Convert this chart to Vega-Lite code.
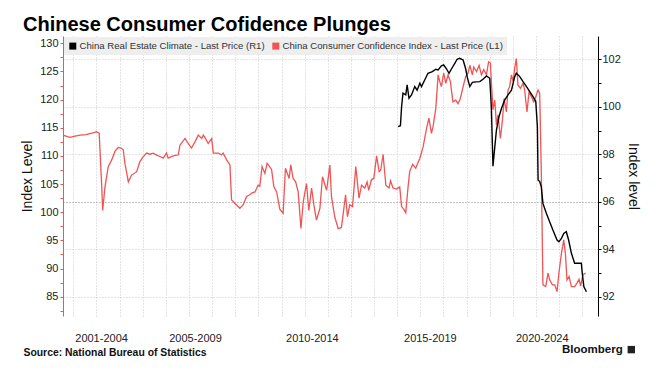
{
  "$schema": "https://vega.github.io/schema/vega-lite/v6.json",
  "autosize": {"type": "none"},
  "width": 535,
  "height": 280,
  "padding": {"left": 63, "top": 36, "right": 60, "bottom": 53},
  "background": "white",
  "title": {"text": "Chinese Consumer Cofidence Plunges", "anchor": "start", "frame": "group", "dx": -40, "fontSize": 20, "fontWeight": "bold", "font": "Liberation Sans", "color": "#000000", "offset": 1},
  "datasets": {
    "cci": [
      {"t":2001.56,"v":113.7},{"t":2001.68,"v":113.5},{"t":2001.86,"v":113.3},{"t":2002.07,"v":113.5},{"t":2002.29,"v":113.7},{"t":2002.55,"v":113.8},{"t":2002.85,"v":114.1},{"t":2003.01,"v":114.3},{"t":2003.12,"v":114.0},{"t":2003.23,"v":104.5},{"t":2003.27,"v":100.3},{"t":2003.37,"v":104.5},{"t":2003.51,"v":108.1},{"t":2003.66,"v":109.3},{"t":2003.80,"v":110.8},{"t":2003.94,"v":111.5},{"t":2004.06,"v":111.4},{"t":2004.16,"v":111.1},{"t":2004.23,"v":108.7},{"t":2004.38,"v":105.4},{"t":2004.52,"v":106.6},{"t":2004.74,"v":107.2},{"t":2004.88,"v":109.0},{"t":2005.01,"v":109.8},{"t":2005.17,"v":110.5},{"t":2005.31,"v":110.3},{"t":2005.46,"v":110.5},{"t":2005.62,"v":110.1},{"t":2005.75,"v":109.9},{"t":2005.89,"v":109.6},{"t":2006.03,"v":110.5},{"t":2006.10,"v":109.6},{"t":2006.32,"v":110.0},{"t":2006.54,"v":110.2},{"t":2006.61,"v":111.9},{"t":2006.83,"v":113.1},{"t":2006.95,"v":112.3},{"t":2007.11,"v":111.4},{"t":2007.26,"v":112.5},{"t":2007.40,"v":113.7},{"t":2007.55,"v":113.1},{"t":2007.62,"v":113.7},{"t":2007.73,"v":113.0},{"t":2007.83,"v":112.2},{"t":2007.98,"v":113.1},{"t":2008.05,"v":110.5},{"t":2008.26,"v":110.5},{"t":2008.41,"v":110.2},{"t":2008.48,"v":110.5},{"t":2008.63,"v":109.3},{"t":2008.77,"v":108.4},{"t":2008.84,"v":102.2},{"t":2008.98,"v":101.6},{"t":2009.20,"v":100.7},{"t":2009.34,"v":101.3},{"t":2009.49,"v":102.8},{"t":2009.63,"v":103.1},{"t":2009.71,"v":103.4},{"t":2009.85,"v":103.6},{"t":2009.99,"v":104.8},{"t":2010.06,"v":104.6},{"t":2010.16,"v":108.1},{"t":2010.28,"v":106.9},{"t":2010.38,"v":108.7},{"t":2010.57,"v":107.6},{"t":2010.67,"v":104.5},{"t":2010.79,"v":103.6},{"t":2010.93,"v":100.5},{"t":2011.07,"v":99.8},{"t":2011.17,"v":107.8},{"t":2011.33,"v":106.0},{"t":2011.40,"v":108.4},{"t":2011.50,"v":106.0},{"t":2011.61,"v":105.4},{"t":2011.72,"v":103.6},{"t":2011.84,"v":97.1},{"t":2011.94,"v":101.9},{"t":2012.08,"v":105.1},{"t":2012.18,"v":100.3},{"t":2012.30,"v":104.3},{"t":2012.40,"v":101.3},{"t":2012.51,"v":98.6},{"t":2012.66,"v":100.7},{"t":2012.77,"v":106.3},{"t":2012.95,"v":103.9},{"t":2013.09,"v":108.4},{"t":2013.16,"v":102.8},{"t":2013.30,"v":99.2},{"t":2013.45,"v":97.1},{"t":2013.59,"v":97.3},{"t":2013.77,"v":103.1},{"t":2013.85,"v":99.2},{"t":2013.95,"v":101.3},{"t":2014.07,"v":101.0},{"t":2014.21,"v":108.1},{"t":2014.35,"v":102.5},{"t":2014.46,"v":104.8},{"t":2014.60,"v":104.3},{"t":2014.70,"v":105.4},{"t":2014.77,"v":103.9},{"t":2014.89,"v":105.8},{"t":2014.99,"v":106.0},{"t":2015.11,"v":110.0},{"t":2015.22,"v":107.2},{"t":2015.29,"v":107.5},{"t":2015.39,"v":110.3},{"t":2015.51,"v":104.8},{"t":2015.65,"v":104.3},{"t":2015.71,"v":105.6},{"t":2015.82,"v":104.3},{"t":2015.97,"v":104.1},{"t":2016.11,"v":104.5},{"t":2016.19,"v":101.0},{"t":2016.29,"v":100.5},{"t":2016.37,"v":99.9},{"t":2016.47,"v":104.5},{"t":2016.54,"v":107.2},{"t":2016.67,"v":108.5},{"t":2016.80,"v":107.8},{"t":2016.98,"v":109.6},{"t":2017.12,"v":111.6},{"t":2017.27,"v":114.9},{"t":2017.37,"v":116.7},{"t":2017.48,"v":114.0},{"t":2017.55,"v":115.2},{"t":2017.67,"v":118.5},{"t":2017.77,"v":124.4},{"t":2017.84,"v":123.2},{"t":2017.91,"v":122.3},{"t":2018.01,"v":124.7},{"t":2018.10,"v":122.9},{"t":2018.20,"v":124.4},{"t":2018.30,"v":123.2},{"t":2018.41,"v":119.6},{"t":2018.53,"v":119.9},{"t":2018.63,"v":119.3},{"t":2018.73,"v":120.2},{"t":2018.85,"v":122.3},{"t":2018.96,"v":124.1},{"t":2019.06,"v":124.7},{"t":2019.14,"v":126.1},{"t":2019.25,"v":124.4},{"t":2019.31,"v":125.8},{"t":2019.43,"v":125.0},{"t":2019.54,"v":126.1},{"t":2019.64,"v":124.4},{"t":2019.74,"v":125.3},{"t":2019.86,"v":124.4},{"t":2019.95,"v":126.7},{"t":2020.03,"v":126.5},{"t":2020.07,"v":123.2},{"t":2020.14,"v":118.2},{"t":2020.22,"v":119.9},{"t":2020.29,"v":115.5},{"t":2020.36,"v":117.3},{"t":2020.46,"v":113.1},{"t":2020.55,"v":116.4},{"t":2020.62,"v":120.2},{"t":2020.72,"v":117.8},{"t":2020.79,"v":121.7},{"t":2020.86,"v":122.3},{"t":2020.94,"v":124.4},{"t":2021.01,"v":123.2},{"t":2021.08,"v":125.6},{"t":2021.15,"v":127.3},{"t":2021.22,"v":122.6},{"t":2021.33,"v":122.0},{"t":2021.44,"v":122.9},{"t":2021.51,"v":121.7},{"t":2021.61,"v":117.8},{"t":2021.70,"v":121.4},{"t":2021.80,"v":120.5},{"t":2021.90,"v":119.6},{"t":2021.99,"v":120.5},{"t":2022.09,"v":121.7},{"t":2022.16,"v":121.1},{"t":2022.23,"v":106.9},{"t":2022.30,"v":87.1},{"t":2022.42,"v":86.8},{"t":2022.52,"v":89.2},{"t":2022.59,"v":88.0},{"t":2022.71,"v":87.1},{"t":2022.81,"v":87.1},{"t":2022.91,"v":85.9},{"t":2022.99,"v":89.2},{"t":2023.10,"v":92.7},{"t":2023.20,"v":95.1},{"t":2023.27,"v":92.7},{"t":2023.34,"v":88.0},{"t":2023.43,"v":88.6},{"t":2023.53,"v":86.8},{"t":2023.67,"v":86.8},{"t":2023.77,"v":87.4},{"t":2023.86,"v":88.1},{"t":2023.93,"v":86.9},{"t":2024.03,"v":88.9},{"t":2024.15,"v":89.2}
    ],
    "rec": [
      {"t":2016.04,"v":99.16},{"t":2016.14,"v":99.2},{"t":2016.19,"v":100.0},{"t":2016.25,"v":100.57},{"t":2016.37,"v":100.5},{"t":2016.43,"v":100.92},{"t":2016.51,"v":100.36},{"t":2016.62,"v":100.5},{"t":2016.76,"v":100.85},{"t":2016.86,"v":100.7},{"t":2016.98,"v":100.99},{"t":2017.05,"v":100.85},{"t":2017.19,"v":101.13},{"t":2017.33,"v":101.41},{"t":2017.52,"v":101.48},{"t":2017.67,"v":101.58},{"t":2017.77,"v":101.55},{"t":2017.91,"v":101.72},{"t":2018.01,"v":101.76},{"t":2018.13,"v":101.6},{"t":2018.24,"v":101.41},{"t":2018.35,"v":101.6},{"t":2018.49,"v":101.83},{"t":2018.59,"v":102.0},{"t":2018.70,"v":102.04},{"t":2018.85,"v":101.97},{"t":2018.96,"v":101.6},{"t":2019.04,"v":101.2},{"t":2019.14,"v":100.85},{"t":2019.25,"v":101.03},{"t":2019.40,"v":101.05},{"t":2019.57,"v":101.06},{"t":2019.71,"v":101.16},{"t":2019.86,"v":101.3},{"t":2020.00,"v":101.2},{"t":2020.07,"v":100.0},{"t":2020.14,"v":97.5},{"t":2020.22,"v":98.32},{"t":2020.29,"v":99.02},{"t":2020.40,"v":99.58},{"t":2020.51,"v":99.94},{"t":2020.65,"v":100.29},{"t":2020.79,"v":100.5},{"t":2020.94,"v":100.7},{"t":2021.08,"v":101.27},{"t":2021.15,"v":101.41},{"t":2021.30,"v":101.27},{"t":2021.44,"v":101.06},{"t":2021.59,"v":100.85},{"t":2021.73,"v":100.64},{"t":2021.87,"v":100.43},{"t":2021.99,"v":100.22},{"t":2022.06,"v":99.16},{"t":2022.09,"v":96.92},{"t":2022.16,"v":96.85},{"t":2022.23,"v":96.63},{"t":2022.30,"v":95.93},{"t":2022.45,"v":95.51},{"t":2022.59,"v":95.16},{"t":2022.73,"v":94.81},{"t":2022.91,"v":94.39},{"t":2022.99,"v":94.32},{"t":2023.10,"v":94.46},{"t":2023.20,"v":94.67},{"t":2023.31,"v":94.74},{"t":2023.41,"v":94.39},{"t":2023.53,"v":93.83},{"t":2023.67,"v":93.41},{"t":2023.77,"v":93.41},{"t":2023.96,"v":93.41},{"t":2024.00,"v":92.99},{"t":2024.07,"v":92.42},{"t":2024.18,"v":92.21}
    ]
  },
  "layer": [
    {
      "layer": [
        {
          "data": {"name": "cci"},
          "mark": {"type": "line", "strokeWidth": 1.3},
          "encoding": {
            "x": {
              "field": "t", "type": "quantitative",
              "scale": {"domain": [2001.555, 2024.68], "nice": false, "zero": false},
              "axis": {
                "orient": "bottom",
                "values": [2002,2003,2004,2005,2006,2007,2008,2009,2010,2011,2012,2013,2014,2015,2016,2017,2018,2019,2020,2021,2022,2023,2024,2003.2,2007.26,2012.31,2017.41,2022.25],
                "labelExpr": "datum.value == floor(datum.value) ? '' : datum.value < 2005 ? '2001-2004' : datum.value < 2010 ? '2005-2009' : datum.value < 2015 ? '2010-2014' : datum.value < 2020 ? '2015-2019' : '2020-2024'",
                "ticks": false, "tickSize": 0, "domain": false,
                "grid": true, "gridDash": [1, 2], "gridColor": "#c8c8c8",
                "gridOpacity": {"condition": {"test": "datum.value != floor(datum.value)", "value": 0}, "value": 1},
                "labelPadding": 16, "labelOverlap": false, "labelFlush": false, "labelFontSize": 11,
                "title": "Source: National Bureau of Statistics",
                "titleAnchor": "start", "titleAlign": "left", "titleX": -40, "titleY": 39, "titleBaseline": "alphabetic",
                "titleFontSize": 10.4, "titleFontWeight": "bold", "titleColor": "#111111"
              }
            },
            "y": {
              "field": "v", "type": "quantitative",
              "scale": {"domain": [81.57, 131.3], "nice": false, "zero": false},
              "axis": {
                "orient": "left",
                "values": [82.5,85,87.5,90,92.5,95,97.5,100,102.5,105,107.5,110,112.5,115,117.5,120,122.5,125,127.5,130],
                "labelExpr": "datum.value % 5 == 0 ? datum.label : ''",
                "tickSize": 3, "tickColor": "#f05454", "domainColor": "#f05454",
                "labelPadding": 2, "grid": false,
                "title": "Index Level", "titlePadding": 5
              }
            },
            "color": {
              "datum": "China Consumer Confidence Index - Last Price (L1)", "type": "nominal",
              "scale": {"domain": ["China Real Estate Climate - Last Price (R1)", "China Consumer Confidence Index - Last Price (L1)"], "range": ["#000000", "#f05454"]},
              "legend": {
                "title": null,
                "encode": {"symbols": {"update": {"fill": {"scale": "color", "field": "value"}, "strokeWidth": {"value": 0}, "shape": {"value": "square"}}}}
              }
            }
          }
        },
        {
          "data": {"values": [{"label": "Bloomberg"}]},
          "mark": {"type": "text", "align": "right", "baseline": "middle", "fontSize": 11.5, "fontWeight": "bold", "font": "Liberation Sans", "color": "#111111"},
          "encoding": {
            "x": {
              "datum": 2025.75, "type": "quantitative",
              "scale": {"domain": [2001.555, 2024.68], "nice": false, "zero": false},
              "axis": {
                "orient": "bottom",
                "values": [2002,2003,2004,2005,2006,2007,2008,2009,2010,2011,2012,2013,2014,2015,2016,2017,2018,2019,2020,2021,2022,2023,2024,2003.2,2007.26,2012.31,2017.41,2022.25],
                "labelExpr": "datum.value == floor(datum.value) ? '' : datum.value < 2005 ? '2001-2004' : datum.value < 2010 ? '2005-2009' : datum.value < 2015 ? '2010-2014' : datum.value < 2020 ? '2015-2019' : '2020-2024'",
                "ticks": false, "tickSize": 0, "domain": false,
                "grid": true, "gridDash": [1, 2], "gridColor": "#c8c8c8",
                "gridOpacity": {"condition": {"test": "datum.value != floor(datum.value)", "value": 0}, "value": 1},
                "labelPadding": 16, "labelOverlap": false, "labelFlush": false, "labelFontSize": 11,
                "title": "Source: National Bureau of Statistics",
                "titleAnchor": "start", "titleAlign": "left", "titleX": -40, "titleY": 39, "titleBaseline": "alphabetic",
                "titleFontSize": 10.4, "titleFontWeight": "bold", "titleColor": "#111111"
              }
            },
            "y": {
              "datum": 75.5, "type": "quantitative",
              "scale": {"domain": [81.57, 131.3], "nice": false, "zero": false},
              "axis": {
                "orient": "left",
                "values": [82.5,85,87.5,90,92.5,95,97.5,100,102.5,105,107.5,110,112.5,115,117.5,120,122.5,125,127.5,130],
                "labelExpr": "datum.value % 5 == 0 ? datum.label : ''",
                "tickSize": 3, "tickColor": "#f05454", "domainColor": "#f05454",
                "labelPadding": 2, "grid": false,
                "title": "Index Level", "titlePadding": 5
              }
            },
            "text": {"field": "label"}
          }
        },
        {
          "data": {"values": [{"label": "logo"}]},
          "mark": {"type": "point", "shape": "square", "filled": true, "size": 55, "color": "#222222", "opacity": 1},
          "encoding": {
            "x": {
              "datum": 2026.12, "type": "quantitative",
              "scale": {"domain": [2001.555, 2024.68], "nice": false, "zero": false},
              "axis": {
                "orient": "bottom",
                "values": [2002,2003,2004,2005,2006,2007,2008,2009,2010,2011,2012,2013,2014,2015,2016,2017,2018,2019,2020,2021,2022,2023,2024,2003.2,2007.26,2012.31,2017.41,2022.25],
                "labelExpr": "datum.value == floor(datum.value) ? '' : datum.value < 2005 ? '2001-2004' : datum.value < 2010 ? '2005-2009' : datum.value < 2015 ? '2010-2014' : datum.value < 2020 ? '2015-2019' : '2020-2024'",
                "ticks": false, "tickSize": 0, "domain": false,
                "grid": true, "gridDash": [1, 2], "gridColor": "#c8c8c8",
                "gridOpacity": {"condition": {"test": "datum.value != floor(datum.value)", "value": 0}, "value": 1},
                "labelPadding": 16, "labelOverlap": false, "labelFlush": false, "labelFontSize": 11,
                "title": "Source: National Bureau of Statistics",
                "titleAnchor": "start", "titleAlign": "left", "titleX": -40, "titleY": 39, "titleBaseline": "alphabetic",
                "titleFontSize": 10.4, "titleFontWeight": "bold", "titleColor": "#111111"
              }
            },
            "y": {
              "datum": 75.6, "type": "quantitative",
              "scale": {"domain": [81.57, 131.3], "nice": false, "zero": false},
              "axis": {
                "orient": "left",
                "values": [82.5,85,87.5,90,92.5,95,97.5,100,102.5,105,107.5,110,112.5,115,117.5,120,122.5,125,127.5,130],
                "labelExpr": "datum.value % 5 == 0 ? datum.label : ''",
                "tickSize": 3, "tickColor": "#f05454", "domainColor": "#f05454",
                "labelPadding": 2, "grid": false,
                "title": "Index Level", "titlePadding": 5
              }
            }
          }
        }
      ]
    },
    {
      "data": {"name": "rec"},
      "mark": {"type": "line", "strokeWidth": 1.4},
      "encoding": {
        "x": {
          "field": "t", "type": "quantitative",
          "scale": {"domain": [2001.555, 2024.68], "nice": false, "zero": false},
          "axis": {
            "orient": "bottom",
            "values": [2002,2003,2004,2005,2006,2007,2008,2009,2010,2011,2012,2013,2014,2015,2016,2017,2018,2019,2020,2021,2022,2023,2024,2003.2,2007.26,2012.31,2017.41,2022.25],
            "labelExpr": "datum.value == floor(datum.value) ? '' : datum.value < 2005 ? '2001-2004' : datum.value < 2010 ? '2005-2009' : datum.value < 2015 ? '2010-2014' : datum.value < 2020 ? '2015-2019' : '2020-2024'",
            "ticks": false, "tickSize": 0, "domain": false,
            "grid": true, "gridDash": [1, 2], "gridColor": "#c8c8c8",
            "gridOpacity": {"condition": {"test": "datum.value != floor(datum.value)", "value": 0}, "value": 1},
            "labelPadding": 16, "labelOverlap": false, "labelFlush": false, "labelFontSize": 11,
            "title": "Source: National Bureau of Statistics",
            "titleAnchor": "start", "titleAlign": "left", "titleX": -40, "titleY": 39, "titleBaseline": "alphabetic",
            "titleFontSize": 10.4, "titleFontWeight": "bold", "titleColor": "#111111"
          }
        },
        "y": {
          "field": "v", "type": "quantitative",
          "scale": {"domain": [91.19, 102.98], "nice": false, "zero": false},
          "axis": {
            "orient": "right",
            "values": [92,93,94,95,96,97,98,99,100,101,102],
            "labelExpr": "datum.value % 2 == 0 ? datum.label : ''",
            "tickSize": 3, "tickColor": "#000000", "domainColor": "#000000",
            "labelPadding": 1,
            "grid": true, "gridDash": [1, 2],
            "gridColor": {"condition": {"test": "datum.value == 96", "value": "#8a8a8a"}, "value": "#c8c8c8"},
            "gridOpacity": {"condition": {"test": "datum.value % 2 != 0", "value": 0}, "value": 1},
            "title": "Index level", "titlePadding": 5
          }
        },
        "color": {
          "datum": "China Real Estate Climate - Last Price (R1)", "type": "nominal",
          "scale": {"domain": ["China Real Estate Climate - Last Price (R1)", "China Consumer Confidence Index - Last Price (L1)"], "range": ["#000000", "#f05454"]},
          "legend": {
            "title": null,
            "encode": {"symbols": {"update": {"fill": {"scale": "color", "field": "value"}, "strokeWidth": {"value": 0}, "shape": {"value": "square"}}}}
          }
        }
      }
    }
  ],
  "resolve": {"scale": {"y": "independent"}},
  "config": {
    "view": {"stroke": null},
    "font": "Liberation Sans",
    "axis": {
      "labelFont": "Liberation Sans", "labelFontSize": 11, "labelColor": "#222222",
      "titleFont": "Liberation Sans", "titleFontSize": 14, "titleFontWeight": "normal", "titleColor": "#111111"
    },
    "legend": {
      "orient": "top-left", "offset": 1, "padding": 4, "fillColor": "#eeeeee",
      "direction": "horizontal", "symbolType": "square", "symbolSize": 49,
      "labelFont": "Liberation Sans", "labelFontSize": 9.6, "labelColor": "#333333",
      "labelOffset": 2, "columnPadding": 6, "labelLimit": 400, "symbolStrokeWidth": 0
    }
  }
}
